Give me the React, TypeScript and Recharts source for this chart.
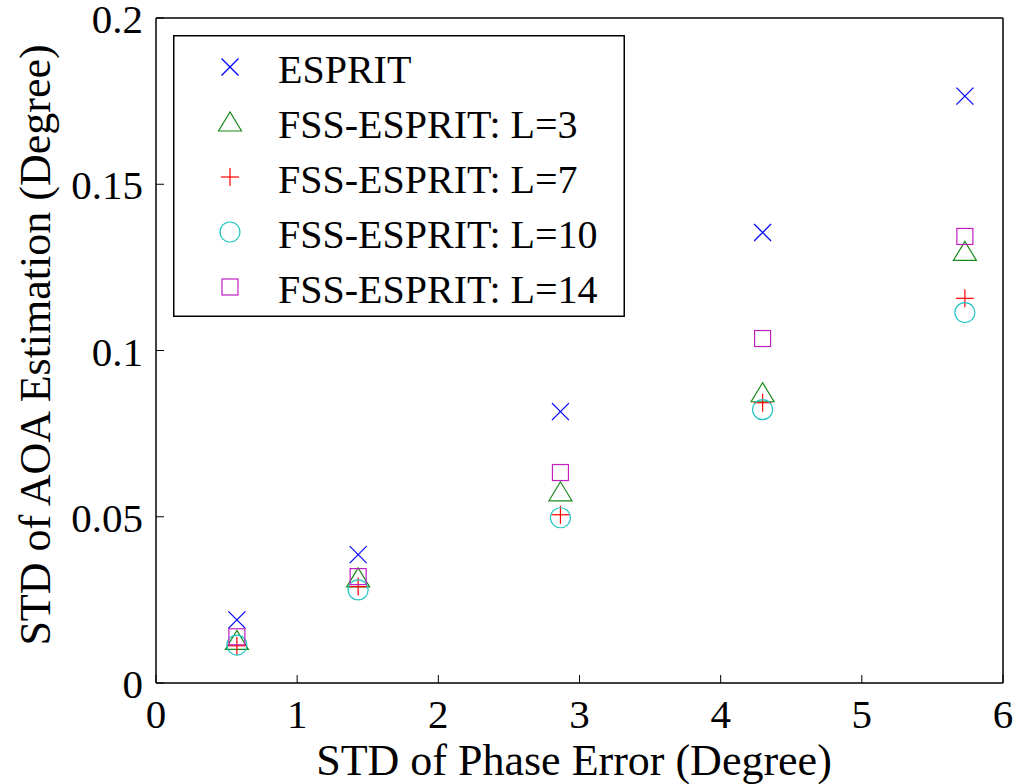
import { ScatterChart, Scatter, XAxis, YAxis, Legend } from 'recharts';

const FONT = '"Liberation Serif", "Times New Roman", serif';

// STD of phase error (degree)
const phaseErr = [0.573, 1.432, 2.865, 4.297, 5.73];

// STD of AOA estimation (degree)
const esprit = [0.019, 0.0386, 0.0816, 0.1355, 0.1765];
const fssL3 = [0.0128, 0.0316, 0.0575, 0.0873, 0.1298];
const fssL7 = [0.0112, 0.029, 0.0506, 0.0843, 0.1157];
const fssL10 = [0.0114, 0.028, 0.0497, 0.0822, 0.1114];
const fssL14 = [0.0139, 0.032, 0.0633, 0.1036, 0.1343];

const xTicks = [0, 1, 2, 3, 4, 5, 6];
const yTicks = [0, 0.05, 0.1, 0.15, 0.2];

type Kind = 'x' | 'tri' | 'plus' | 'circle' | 'square';

const series: Array<{ name: string; values: number[]; color: string; kind: Kind }> = [
  { name: 'ESPRIT', values: esprit, color: '#0000ff', kind: 'x' },
  { name: 'FSS-ESPRIT: L=3', values: fssL3, color: '#1a8a1a', kind: 'tri' },
  { name: 'FSS-ESPRIT: L=7', values: fssL7, color: '#ff0000', kind: 'plus' },
  { name: 'FSS-ESPRIT: L=10', values: fssL10, color: '#22c4c4', kind: 'circle' },
  { name: 'FSS-ESPRIT: L=14', values: fssL14, color: '#c020c0', kind: 'square' },
];

function Marker({ kind, cx, cy, color }: { kind: Kind; cx: number; cy: number; color: string }) {
  const sw = 1.2;
  if (kind === 'x') {
    const h = 8.5;
    return (
      <g stroke={color} strokeWidth={sw}>
        <line x1={cx - h} y1={cy - h} x2={cx + h} y2={cy + h} />
        <line x1={cx - h} y1={cy + h} x2={cx + h} y2={cy - h} />
      </g>
    );
  }
  if (kind === 'tri') {
    return (
      <polygon
        points={`${cx},${cy - 10} ${cx - 11.5},${cy + 9} ${cx + 11.5},${cy + 9}`}
        fill="none"
        stroke={color}
        strokeWidth={sw}
      />
    );
  }
  if (kind === 'plus') {
    const h = 9;
    return (
      <g stroke={color} strokeWidth={sw}>
        <line x1={cx - h} y1={cy} x2={cx + h} y2={cy} />
        <line x1={cx} y1={cy - h} x2={cx} y2={cy + h} />
      </g>
    );
  }
  if (kind === 'circle') {
    return <circle cx={cx} cy={cy} r={10} fill="none" stroke={color} strokeWidth={sw} />;
  }
  return <rect x={cx - 8} y={cy - 8} width={16} height={16} fill="none" stroke={color} strokeWidth={sw} />;
}

const XTick = (p: any) => (
  <text x={p.x} y={p.y + 45} textAnchor="middle" fontSize={41} fontFamily={FONT} fill="#000">
    {p.payload.value}
  </text>
);

const YTick = (p: any) => (
  <text x={p.x - 13} y={p.y + 15} textAnchor="end" fontSize={41} fontFamily={FONT} fill="#000">
    {p.payload.value}
  </text>
);

function LegendBox() {
  return (
    <svg width={452} height={282} style={{ display: 'block' }}>
      <rect x={0.75} y={0.75} width={450.5} height={280.5} fill="#fff" stroke="#000" strokeWidth={1.5} />
      {series.map((s, i) => {
        const base = 48 + i * 55;
        return (
          <g key={s.name}>
            <Marker kind={s.kind} cx={57} cy={base - 16} color={s.color} />
            <text x={105} y={base} fontSize={40} fontFamily={FONT} fill="#000">
              {s.name}
            </text>
          </g>
        );
      })}
    </svg>
  );
}

export default function App() {
  return (
    <div style={{ position: 'absolute', left: 0, top: 0, background: '#fff' }}>
      <ScatterChart width={1021} height={784} margin={{ top: 17, right: 17, bottom: 0, left: 0 }}>
        <XAxis
          xAxisId={0}
          type="number"
          dataKey="x"
          domain={[0, 6]}
          ticks={xTicks}
          height={101}
          tickSize={-8}
          tickMargin={8}
          tick={XTick}
          axisLine={{ stroke: '#000', strokeWidth: 1.5 }}
          tickLine={{ stroke: '#000', strokeWidth: 1 }}
          allowDataOverflow
          label={{
            content: () => (
              <text x={574} y={775} textAnchor="middle" fontSize={44} fontFamily={FONT} fill="#000">
                STD of Phase Error (Degree)
              </text>
            ),
          }}
        />
        <XAxis
          xAxisId="top"
          orientation="top"
          type="number"
          dataKey="x"
          domain={[0, 6]}
          ticks={xTicks}
          height={1}
          tickSize={-8}
          tick={false}
          axisLine={{ stroke: '#000', strokeWidth: 1.5 }}
          tickLine={{ stroke: '#000', strokeWidth: 1 }}
          allowDataOverflow
        />
        <YAxis
          yAxisId={0}
          type="number"
          dataKey="y"
          domain={[0, 0.2]}
          ticks={yTicks}
          width={156}
          tickSize={-8}
          tickMargin={8}
          tick={YTick}
          axisLine={{ stroke: '#000', strokeWidth: 1.5 }}
          tickLine={{ stroke: '#000', strokeWidth: 1 }}
          allowDataOverflow
          label={{
            content: () => (
              <text
                x={50}
                y={345}
                transform="rotate(-90, 50, 345)"
                textAnchor="middle"
                fontSize={44}
                fontFamily={FONT}
                fill="#000"
              >
                STD of AOA Estimation (Degree)
              </text>
            ),
          }}
        />
        <YAxis
          yAxisId="right"
          orientation="right"
          type="number"
          dataKey="y"
          domain={[0, 0.2]}
          ticks={yTicks}
          width={1}
          tickSize={-8}
          tick={false}
          axisLine={{ stroke: '#000', strokeWidth: 1.5 }}
          tickLine={{ stroke: '#000', strokeWidth: 1 }}
          allowDataOverflow
        />
        <Legend
          layout="horizontal"
          verticalAlign="middle"
          align="center"
          wrapperStyle={{ position: 'absolute', left: 173, top: 35, width: 452, height: 282 }}
          content={() => <LegendBox />}
        />
        {series.map((s) => (
          <Scatter
            key={s.name}
            name={s.name}
            xAxisId={0}
            yAxisId={0}
            data={phaseErr.map((x, i) => ({ x, y: s.values[i] }))}
            fill={s.color}
            isAnimationActive={false}
            shape={(p: any) => <Marker kind={s.kind} cx={p.cx} cy={p.cy} color={s.color} />}
          />
        ))}
      </ScatterChart>
    </div>
  );
}
